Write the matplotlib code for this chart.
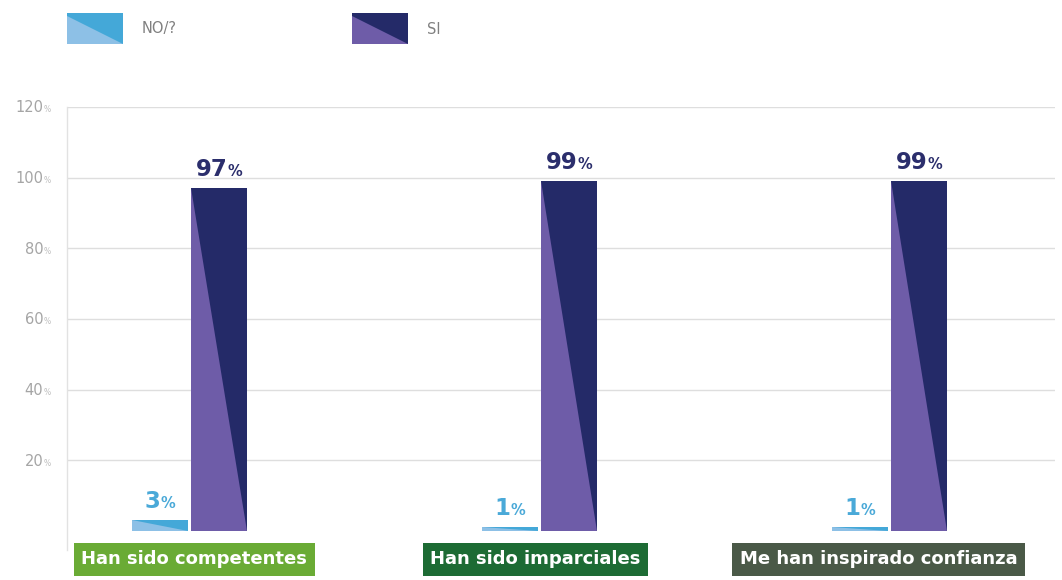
import matplotlib.pyplot as plt
import matplotlib.transforms as mtransforms
from matplotlib.patches import Polygon
from matplotlib.offsetbox import TextArea, HPacker, AnnotationBbox

# Survey answers per statement (percent)
categories = ['Han sido competentes', 'Han sido imparciales', 'Me han inspirado confianza']
series = ['NO/?', 'SI']
no_vals = [3, 1, 1]
si_vals = [97, 99, 99]
yticks = [20, 40, 60, 80, 100, 120]

# (lower-left triangle, upper-right triangle, value label colour)
series_colors = {
    'NO/?': ('#8dc0e6', '#44a8d8', '#4aa9d8'),
    'SI': ('#6e5ca8', '#242a68', '#2b2e6c'),
}
box_colors = ['#6aab35', '#1d6b34', '#4a5947']
box_shift = [0.015, -0.01, -0.03]

W, H = 1062, 580
fig = plt.figure(figsize=(W / 100, H / 100), dpi=100)
ax = fig.add_axes([67 / W, 30 / H, 988 / W, 443 / H])

bar_w = 0.16
offsets = [-0.084, 0.086]
x = list(range(len(categories)))


def px(xp, yp):
    # pixel position measured from the top-left corner -> figure fraction
    return (xp / W, 1 - yp / H)


for s, vals, off in zip(series, [no_vals, si_vals], offsets):
    light, dark, txt_col = series_colors[s]
    bars = ax.bar([i + off for i in x], vals, bar_w, color=dark, linewidth=0, zorder=3)
    for b, v in zip(bars, vals):
        x0, x1 = b.get_x(), b.get_x() + b.get_width()
        top = b.get_height()
        ax.add_patch(Polygon([(x0, top), (x0, 0), (x1, 0)], closed=True,
                             facecolor=light, edgecolor='none', zorder=4))
        num = TextArea(f'{v}', textprops=dict(fontsize=16.5, fontweight='bold', color=txt_col))
        pct = TextArea('%', textprops=dict(fontsize=10.5, fontweight='bold', color=txt_col))
        pack = HPacker(children=[num, pct], align='baseline', pad=0, sep=0)
        ab = AnnotationBbox(pack, (b.get_x() + b.get_width() / 2, top), xybox=(0, 5),
                            xycoords='data', boxcoords='offset points',
                            box_alignment=(0.5, 0), frameon=False, zorder=5)
        ax.add_artist(ab)

ax.set_xlim(-0.349, 2.474)
ax.set_ylim(-5.4, 120)
ax.set_yticks(yticks)
ax.set_xticks([])
ax.tick_params(axis='y', length=0, labelleft=False)
ax.grid(axis='y', color='#dedede', linewidth=1, zorder=0)
for side in ['top', 'right', 'bottom']:
    ax.spines[side].set_visible(False)
ax.spines['left'].set_color('#e2e2e2')
ax.spines['left'].set_linewidth(1)

# y tick labels with a small percent sign
for t in yticks:
    ax.annotate(str(t), xy=(0, t), xycoords=('axes fraction', 'data'),
                xytext=(-17, -3.8), textcoords='offset points',
                ha='right', va='baseline', fontsize=10.5, color='#a5a5a5')
    ax.annotate('%', xy=(0, t), xycoords=('axes fraction', 'data'),
                xytext=(-16.5, -3.8), textcoords='offset points',
                ha='left', va='baseline', fontsize=5.5, color='#bdbdbd')

# category labels in coloured boxes below the bars
trans = mtransforms.blended_transform_factory(ax.transData, fig.transFigure)
for i, (cat, col) in enumerate(zip(categories, box_colors)):
    ax.text(i + box_shift[i], (H - 559.5) / H, cat, transform=trans, ha='center', va='center',
            fontsize=13, fontweight='bold', color='white', clip_on=False, zorder=6,
            bbox=dict(boxstyle='square,pad=0.42', facecolor=col, edgecolor='none'))

# legend with split swatches
legend_pos = [(67, 142), (352, 427)]
for s, (lx, tx) in zip(series, legend_pos):
    light, dark, _ = series_colors[s]
    x0, x1, y0, y1 = lx, lx + 56, 13, 44
    fig.add_artist(Polygon([px(x0, y0), px(x1, y0), px(x1, y1), px(x0, y1)],
                           closed=True, facecolor=dark, edgecolor='none',
                           transform=fig.transFigure))
    fig.add_artist(Polygon([px(x0, y0 + 3), px(x0, y1), px(x1, y1)],
                           closed=True, facecolor=light, edgecolor='none',
                           transform=fig.transFigure))
    fig.text(*px(tx, 29), s, ha='left', va='center', fontsize=10.5, color='#808080')

fig.savefig('out.png', dpi=100)
